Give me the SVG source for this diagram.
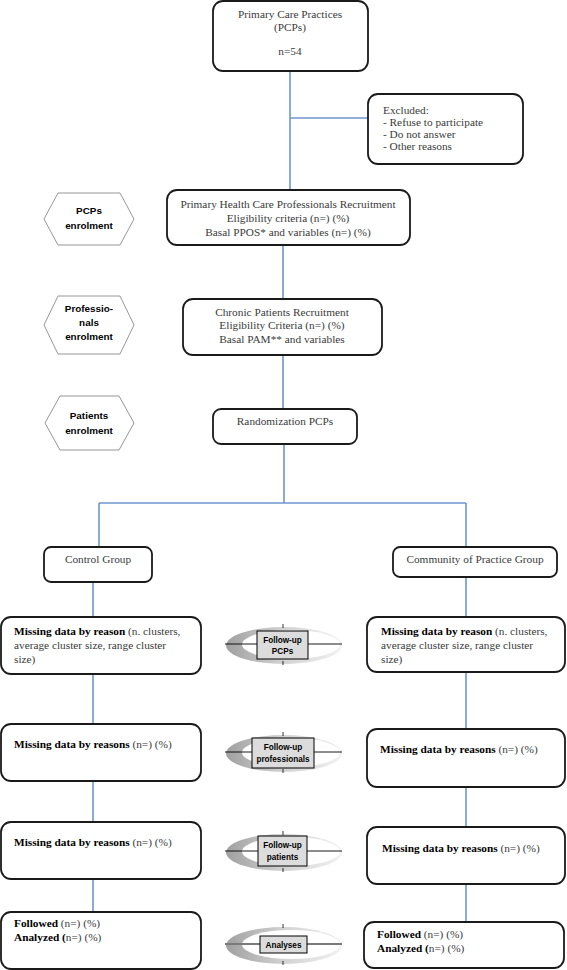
<svg xmlns="http://www.w3.org/2000/svg" width="567" height="970" viewBox="0 0 567 970">
<style>
.box{fill:#fff;stroke:#1a1a1a;stroke-width:1.8}
.hex{fill:#fff;stroke:#8a8a8a;stroke-width:0.9}
.con{fill:none;stroke:#6f97cd;stroke-width:1.6}
.t{font-family:"Liberation Serif","DejaVu Serif",serif;font-size:11.3px;fill:#3a3a3a}
.c{text-anchor:middle}
.b{font-weight:bold;fill:#000}
.h{font-family:"Liberation Sans",Arial,sans-serif;font-weight:bold;font-size:9.9px;fill:#000;text-anchor:middle}
.lab{fill:#dcdcdc;stroke:#000;stroke-width:1}
.lt{font-family:"Liberation Sans",Arial,sans-serif;font-weight:bold;font-size:8.2px;fill:#000;text-anchor:middle}
.tick{stroke:#000;stroke-width:0.8}
</style>
<defs>
<linearGradient id="rg" x1="0" y1="0" x2="1" y2="0">
<stop offset="0" stop-color="#a0a0a0"/>
<stop offset="0.5" stop-color="#d2d2d2"/>
<stop offset="1" stop-color="#f2f2f2"/>
</linearGradient>
<g id="ring">
<ellipse cx="0" cy="1.5" rx="58" ry="18.5" fill="url(#rg)"/>
<ellipse cx="7" cy="0.5" rx="49" ry="14.5" fill="#fff"/>
<line class="tick" x1="-1" y1="-20" x2="-1" y2="-16"/>
<line class="tick" x1="-1" y1="17" x2="-1" y2="21"/>
</g>
</defs>

<g id="connectors">
<path class="con" d="M290 71V190M290 118H368M283 245V299M283 355V409M284 444V503M99 503H466M99 503V547M466 503V547"/>
<path class="con" d="M93 582V617M93 674V724M93 781V822M93 879V912"/>
<path class="con" d="M466 577V617M466 672V729M466 787V827M466 884V922"/>
</g>

<g id="pcps">
<rect class="box" x="213" y="1" width="155" height="70" rx="10"/>
<text class="t c" x="290" y="18">Primary Care Practices</text>
<text class="t c" x="290" y="31">(PCPs)</text>
<text class="t c" x="290" y="55">n=54</text>
</g>

<g id="excluded">
<rect class="box" x="368" y="94" width="155" height="70" rx="10"/>
<text class="t" x="383" y="114">Excluded:</text>
<text class="t" x="383" y="126">- Refuse to participate</text>
<text class="t" x="383" y="138">- Do not answer</text>
<text class="t" x="383" y="150">- Other reasons</text>
</g>

<g id="hex-pcps">
<path class="hex" d="M44 219L58 193L120 193L134 219L120 245L58 245Z"/>
<text class="h" x="89" y="214">PCPs</text>
<text class="h" x="89" y="229">enrolment</text>
</g>
<g id="hex-prof">
<path class="hex" d="M44 325L58 296L120 296L134 325L120 354L58 354Z"/>
<text class="h" x="89" y="312">Professio-</text>
<text class="h" x="89" y="326">nals</text>
<text class="h" x="89" y="340">enrolment</text>
</g>
<g id="hex-pat">
<path class="hex" d="M45 423L60 396L119 396L134 423L119 450L60 450Z"/>
<text class="h" x="89" y="419">Patients</text>
<text class="h" x="89" y="434">enrolment</text>
</g>

<g id="prof-recruit">
<rect class="box" x="167" y="190" width="243" height="55" rx="10"/>
<text class="t c" x="288" y="208">Primary Health Care Professionals Recruitment</text>
<text class="t c" x="288" y="222">Eligibility criteria (n=) (%)</text>
<text class="t c" x="288" y="236">Basal PPOS* and variables (n=) (%)</text>
</g>

<g id="pat-recruit">
<rect class="box" x="183" y="299" width="199" height="56" rx="10"/>
<text class="t c" x="282" y="316">Chronic Patients Recruitment</text>
<text class="t c" x="282" y="329">Eligibility Criteria (n=) (%)</text>
<text class="t c" x="282" y="343">Basal PAM** and variables</text>
</g>

<g id="random">
<rect class="box" x="213" y="409" width="144" height="35" rx="8"/>
<text class="t c" x="285" y="425">Randomization PCPs</text>
</g>

<g id="control">
<rect class="box" x="44" y="547" width="108" height="35" rx="7"/>
<text class="t c" x="98" y="563">Control Group</text>
</g>
<g id="cop">
<rect class="box" x="393" y="547" width="164" height="30" rx="7"/>
<text class="t c" x="475" y="563">Community of Practice Group</text>
</g>

<g id="l-miss1">
<rect class="box" x="1" y="617" width="200" height="57" rx="10"/>
<text class="t" x="14" y="635"><tspan class="b">Missing data by reason</tspan> (n. clusters,</text>
<text class="t" x="14" y="649">average cluster size, range cluster</text>
<text class="t" x="14" y="663">size)</text>
</g>
<g id="r-miss1">
<rect class="box" x="367" y="617" width="198" height="55" rx="10"/>
<text class="t" x="381" y="635"><tspan class="b">Missing data by reason</tspan> (n. clusters,</text>
<text class="t" x="381" y="649">average cluster size, range cluster</text>
<text class="t" x="381" y="663">size)</text>
</g>

<g id="l-miss2">
<rect class="box" x="1" y="724" width="200" height="57" rx="10"/>
<text class="t" x="14" y="748"><tspan class="b">Missing data by reasons</tspan> (n=) (%)</text>
</g>
<g id="r-miss2">
<rect class="box" x="367" y="729" width="198" height="58" rx="10"/>
<text class="t" x="380" y="753"><tspan class="b">Missing data by reasons</tspan> (n=) (%)</text>
</g>

<g id="l-miss3">
<rect class="box" x="1" y="822" width="200" height="57" rx="10"/>
<text class="t" x="14" y="846"><tspan class="b">Missing data by reasons</tspan> (n=) (%)</text>
</g>
<g id="r-miss3">
<rect class="box" x="367" y="827" width="198" height="57" rx="10"/>
<text class="t" x="382" y="852"><tspan class="b">Missing data by reasons</tspan> (n=) (%)</text>
</g>

<g id="l-final">
<rect class="box" x="1" y="912" width="200" height="57" rx="10"/>
<text class="t" x="14" y="927"><tspan class="b">Followed</tspan> (n=) (%)</text>
<text class="t" x="14" y="941"><tspan class="b">Analyzed (</tspan>n=) (%)</text>
</g>
<g id="r-final">
<rect class="box" x="364" y="922" width="200" height="46" rx="10"/>
<text class="t" x="377" y="938"><tspan class="b">Followed</tspan> (n=) (%)</text>
<text class="t" x="377" y="952"><tspan class="b">Analyzed (</tspan>n=) (%)</text>
</g>

<g id="fu-pcps">
<use href="#ring" x="284" y="644"/>
<line x1="225" y1="644" x2="342" y2="644" stroke="#000" stroke-width="0.9"/>
<rect class="lab" x="257" y="631" width="51" height="28"/>
<text class="lt" x="282.5" y="643">Follow-up</text>
<text class="lt" x="282.5" y="654">PCPs</text>
</g>
<g id="fu-prof">
<use href="#ring" x="284" y="752"/>
<line x1="225" y1="752" x2="342" y2="752" stroke="#000" stroke-width="0.9"/>
<rect class="lab" x="252" y="738" width="62" height="30"/>
<text class="lt" x="283" y="750">Follow-up</text>
<text class="lt" x="283" y="762">professionals</text>
</g>
<g id="fu-pat">
<use href="#ring" x="284" y="851"/>
<line x1="225" y1="851" x2="342" y2="851" stroke="#000" stroke-width="0.9"/>
<rect class="lab" x="258" y="836" width="49" height="30"/>
<text class="lt" x="282.5" y="848">Follow-up</text>
<text class="lt" x="282.5" y="860">patients</text>
</g>
<g id="analyses">
<use href="#ring" x="284" y="944"/>
<line x1="225" y1="944" x2="342" y2="944" stroke="#7a7a7a" stroke-width="2"/>
<rect class="lab" x="260" y="936" width="47" height="17"/>
<text class="lt" x="283.5" y="947.5">Analyses</text>
</g>
</svg>
